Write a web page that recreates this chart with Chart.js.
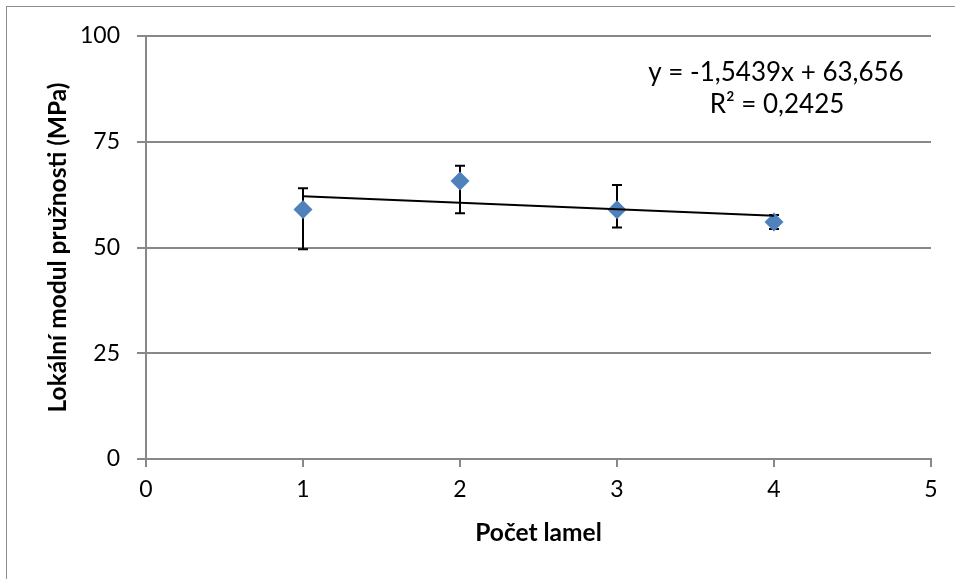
<!DOCTYPE html>
<html>
<head>
<meta charset="utf-8">
<script src="https://cdn.jsdelivr.net/npm/chart.js@4.4.1/dist/chart.umd.min.js"></script>
<style>
  html, body { margin: 0; padding: 0; background: #ffffff; overflow: hidden; }
  #wrap { position: relative; width: 955px; height: 579px; }
  #frame { position: absolute; left: 6px; top: 6px; width: 2000px; height: 2000px; border: 1px solid #8c8c8c; box-sizing: border-box; pointer-events: none; }
  canvas { position: absolute; left: 0; top: 0; }
</style>
</head>
<body>
<div id="wrap">
  <div id="frame"></div>
  <canvas id="c" width="955" height="579"></canvas>
</div>
<script>
// ---- data ----
const xValues   = [1, 2, 3, 4];
const yValues   = [59.0, 65.7, 58.9, 56.0];
const errUpper  = [64.0, 69.3, 64.8, 57.7];
const errLower  = [49.6, 58.1, 54.7, 54.4];
const trendX    = [1, 4];
const trendY    = [62.11, 57.48];
const yTicks    = [0, 25, 50, 75, 100];
const xTicks    = [0, 1, 2, 3, 4, 5];
const xTitle    = 'Počet lamel';
const yTitle    = 'Lokální modul pružnosti (MPa)';
const eqLines   = ['y = -1,5439x + 63,656', 'R² = 0,2425'];

const FONT = 'Lato, "Open Sans", sans-serif';
const GRID = '#888888';

const errorBars = {
  id: 'errorBars',
  beforeDatasetsDraw(chart) {
    const {ctx, scales: {x, y}} = chart;
    ctx.save();
    ctx.strokeStyle = '#000000';
    ctx.lineWidth = 2;
    const cap = 5;
    for (let i = 0; i < xValues.length; i++) {
      const px = x.getPixelForValue(xValues[i]);
      const top = y.getPixelForValue(errUpper[i]);
      const bot = y.getPixelForValue(errLower[i]);
      ctx.beginPath();
      ctx.moveTo(px, top); ctx.lineTo(px, bot);
      ctx.moveTo(px - cap, top); ctx.lineTo(px + cap, top);
      ctx.moveTo(px - cap, bot); ctx.lineTo(px + cap, bot);
      ctx.stroke();
    }
    ctx.restore();
  }
};

const equation = {
  id: 'equation',
  afterDraw(chart) {
    const {ctx} = chart;
    ctx.save();
    ctx.fillStyle = '#000000';
    ctx.font = '26px ' + FONT;
    ctx.textAlign = 'center';
    ctx.textBaseline = 'middle';
    ctx.fillText(eqLines[0], 776, 73);
    ctx.fillText(eqLines[1], 777, 105);
    ctx.restore();
  }
};

new Chart(document.getElementById('c'), {
  type: 'scatter',
  data: {
    datasets: [
      {
        type: 'line',
        label: 'trend',
        data: trendX.map((v, i) => ({x: v, y: trendY[i]})),
        borderColor: '#000000',
        borderWidth: 2,
        pointRadius: 0,
        fill: false,
        order: 0
      },
      {
        label: 'data',
        data: xValues.map((v, i) => ({x: v, y: yValues[i]})),
        pointStyle: 'rectRot',
        pointRadius: 9.5,
        pointHoverRadius: 9.5,
        backgroundColor: '#4F81BD',
        borderColor: '#4F81BD',
        borderWidth: 0,
        order: 1
      }
    ]
  },
  options: {
    responsive: false,
    animation: false,
    events: [],
    layout: { padding: { left: 0, top: 36, right: 24, bottom: 0 } },
    plugins: { legend: { display: false }, tooltip: { enabled: false } },
    scales: {
      x: {
        type: 'linear',
        min: 0, max: 5,
        afterBuildTicks: s => { s.ticks = xTicks.map(v => ({value: v})); },
        afterFit: s => { s.height = 120; },
        border: { display: true, color: GRID, width: 2 },
        grid: { drawOnChartArea: false, drawTicks: true, tickLength: 8, color: GRID, lineWidth: 2 },
        ticks: { color: '#000000', padding: 9, font: { family: FONT, size: 23 } },
        title: { display: true, text: xTitle, color: '#000000', font: { family: FONT, size: 24.5, weight: 'bold' }, padding: { top: 31, bottom: 31 } }
      },
      y: {
        type: 'linear',
        min: 0, max: 100,
        afterBuildTicks: s => { s.ticks = yTicks.map(v => ({value: v})); },
        afterFit: s => { s.width = 146; },
        border: { display: true, color: GRID, width: 2 },
        grid: { drawOnChartArea: true, drawTicks: true, tickLength: 9, color: GRID, lineWidth: 2 },
        ticks: { color: '#000000', padding: 17, font: { family: FONT, size: 23 } },
        title: { display: true, text: yTitle, color: '#000000', font: { family: FONT, size: 24.5, weight: 'bold' }, padding: { top: 43, bottom: 43 } }
      }
    }
  },
  plugins: [errorBars, equation]
});
</script>
</body>
</html>
